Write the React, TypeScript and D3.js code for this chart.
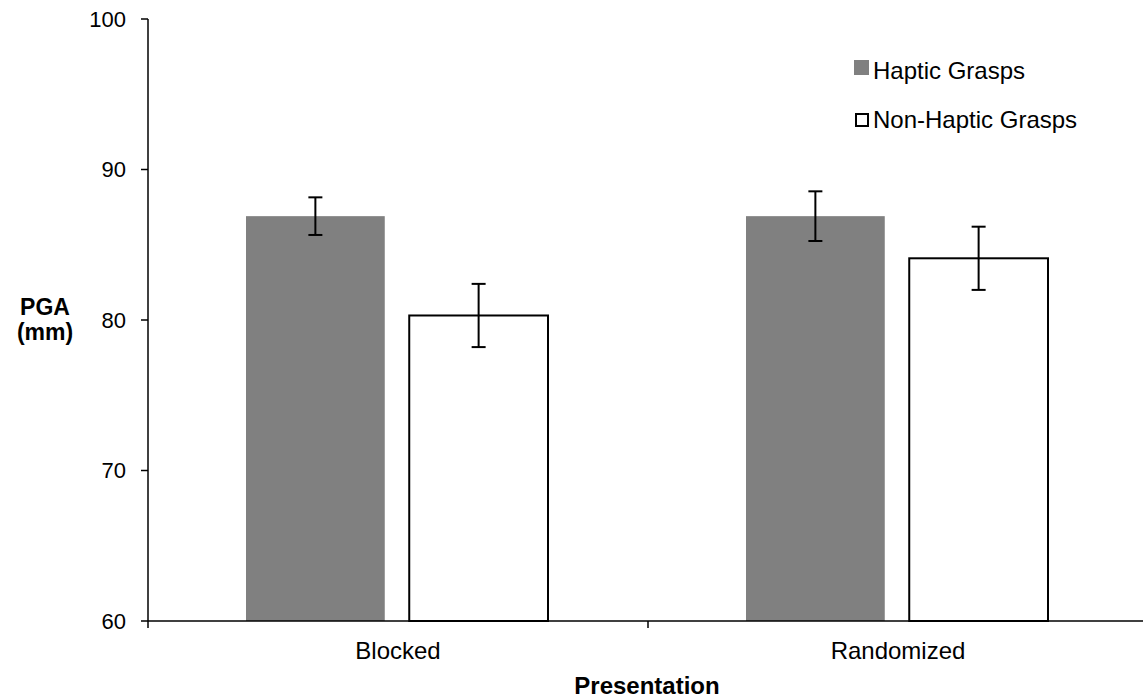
import React from 'react';
import * as d3 from 'd3';

const categories = ['Blocked', 'Randomized'];
const seriesNames = ['Haptic Grasps', 'Non-Haptic Grasps'];
const hapticMeans = [86.9, 86.9];
const hapticErrors = [1.25, 1.65];
const nonHapticMeans = [80.3, 84.1];
const nonHapticErrors = [2.1, 2.1];
const yTicks = [60, 70, 80, 90, 100];

const W = 1143;
const H = 700;
const FONT = 'Liberation Sans, Arial, sans-serif';

const App = () => {
  const x0 = d3.scaleBand<string>().domain(categories).range([148, 1148]);
  const x1 = d3.scaleBand<string>().domain(seriesNames).range([98, 400]).paddingInner(0.15);
  const y = d3.scaleLinear().domain([60, 100]).range([621, 19]);

  const rows = categories.flatMap((c, i) => [
    { cat: c, s: seriesNames[0], v: hapticMeans[i], e: hapticErrors[i] },
    { cat: c, s: seriesNames[1], v: nonHapticMeans[i], e: nonHapticErrors[i] },
  ]);

  const xTicks = [...categories.map((c) => x0(c)!), 1148];

  return (
    <svg width={W} height={H} style={{ position: 'absolute', left: 0, top: 0 }} fontFamily={FONT}>
      {rows.map((d, i) => {
        const bx = x0(d.cat)! + x1(d.s)!;
        const bw = x1.bandwidth();
        const haptic = d.s === seriesNames[0];
        return (
          <g key={i}>
            <rect
              x={bx}
              y={y(d.v)}
              width={bw}
              height={y(60) - y(d.v)}
              fill={haptic ? '#808080' : '#fff'}
              stroke={haptic ? 'none' : '#000'}
              strokeWidth={2}
            />
            <g stroke="#000" strokeWidth={2}>
              <line x1={bx + bw / 2} x2={bx + bw / 2} y1={y(d.v + d.e)} y2={y(d.v - d.e)} />
              <line x1={bx + bw / 2 - 7} x2={bx + bw / 2 + 7} y1={y(d.v + d.e)} y2={y(d.v + d.e)} />
              <line x1={bx + bw / 2 - 7} x2={bx + bw / 2 + 7} y1={y(d.v - d.e)} y2={y(d.v - d.e)} />
            </g>
          </g>
        );
      })}

      {/* axes */}
      <line x1={148} x2={148} y1={y(100)} y2={y(60)} stroke="#000" strokeWidth={1.5} />
      <line x1={148} x2={1148} y1={y(60)} y2={y(60)} stroke="#000" strokeWidth={1.5} />
      {yTicks.map((t) => (
        <g key={t}>
          <line x1={141} x2={148} y1={y(t)} y2={y(t)} stroke="#000" strokeWidth={1.5} />
          <text x={126} y={y(t)} dy="0.36em" textAnchor="end" fontSize={22} fill="#000">
            {t}
          </text>
        </g>
      ))}
      {xTicks.map((t, i) => (
        <line key={i} x1={t} x2={t} y1={y(60)} y2={y(60) + 7} stroke="#000" strokeWidth={1.5} />
      ))}
      {categories.map((c) => (
        <text key={c} x={x0(c)! + x0.bandwidth() / 2} y={659} textAnchor="middle" fontSize={24} fill="#000">
          {c}
        </text>
      ))}

      <text x={647} y={694} textAnchor="middle" fontSize={24} fontWeight="bold" fill="#000">
        Presentation
      </text>
      <text x={45} y={315} textAnchor="middle" fontSize={23} fontWeight="bold" fill="#000">
        PGA
      </text>
      <text x={45} y={340} textAnchor="middle" fontSize={23} fontWeight="bold" fill="#000">
        (mm)
      </text>

      {/* legend */}
      {seriesNames.map((s, i) => (
        <g key={s} transform={`translate(854, ${60 + i * 50})`}>
          <rect
            x={i === 0 ? 0 : 2}
            y={i === 0 ? 0 : 4}
            width={i === 0 ? 15 : 12}
            height={i === 0 ? 15 : 12}
            fill={i === 0 ? '#808080' : '#fff'}
            stroke={i === 0 ? 'none' : '#000'}
            strokeWidth={2}
          />
          <text x={19} y={i === 0 ? 18.5 : 17.5} fontSize={24} fill="#000">
            {s}
          </text>
        </g>
      ))}
    </svg>
  );
};

export default App;
